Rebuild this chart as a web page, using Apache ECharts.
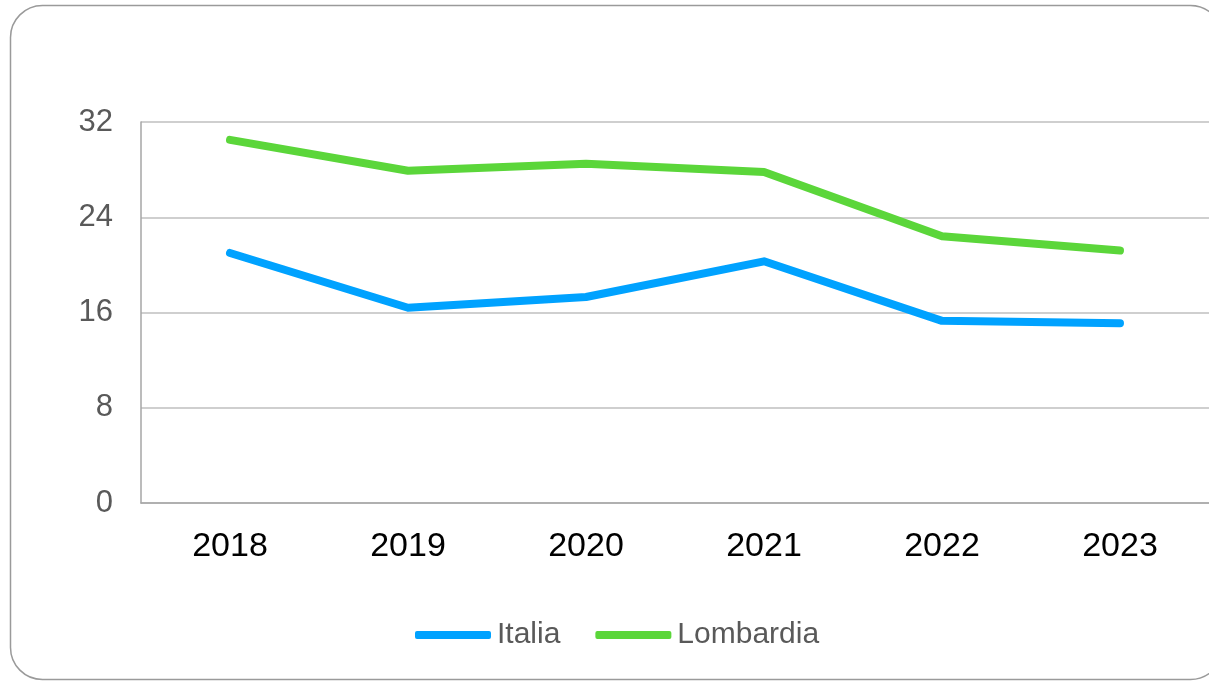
<!DOCTYPE html>
<html><head><meta charset="utf-8">
<script src="https://cdn.jsdelivr.net/npm/echarts@6/dist/echarts.min.js"></script>
<style>html,body{margin:0;padding:0;background:#fff}#c{width:1209px;height:681px}</style>
</head><body><div id="c"></div>
<script>
var categories = ['2018','2019','2020','2021','2022','2023'];
var italia = [21.0, 16.4, 17.3, 20.3, 15.3, 15.1];
var lombardia = [30.5, 27.9, 28.5, 27.8, 22.4, 21.2];
var yTicks = [0, 8, 16, 24, 32];

var chart = echarts.init(document.getElementById('c'), null, {renderer:'canvas'});
chart.setOption({
  animation:false,
  backgroundColor:'#fff',
  graphic:[{type:'rect', shape:{x:10.5,y:5.5,width:1212,height:674,r:32}, style:{fill:'none',stroke:'#9a9a9a',lineWidth:1.5}, z:-1}],
  grid:{left:141, right:-5, top:122, bottom:178, containLabel:false},
  legend:{
    top:620, left:415, padding:0,
    itemWidth:76, itemHeight:8, itemGap:35,
    icon:'roundRect',
    textStyle:{fontFamily:'Liberation Sans, Arial', fontSize:30, color:'#595959', padding:[0,0,0,1]},
    data:['Italia','Lombardia']
  },
  xAxis:{
    type:'category', data:categories, boundaryGap:true,
    axisLine:{show:true, lineStyle:{color:'#a6a6a6', width:1.5}},
    axisTick:{show:false},
    axisLabel:{fontFamily:'Liberation Sans, Arial', fontSize:34, color:'#000', margin:27}
  },
  yAxis:{
    type:'value', min:yTicks[0], max:yTicks[yTicks.length-1], interval:8,
    axisLine:{show:true, lineStyle:{color:'#a6a6a6', width:1.5}},
    axisTick:{show:false},
    splitLine:{lineStyle:{color:'#bfbfbf', width:1.5}},
    axisLabel:{fontFamily:'Liberation Sans, Arial', fontSize:31, color:'#595959', margin:28}
  },
  series:[
    {name:'Italia', type:'line', data:italia, showSymbol:false, symbol:'none',
     lineStyle:{color:'#00a2ff', width:8, cap:'round', join:'round'}, itemStyle:{color:'#00a2ff'}},
    {name:'Lombardia', type:'line', data:lombardia, showSymbol:false, symbol:'none',
     lineStyle:{color:'#5bd63a', width:8, cap:'round', join:'round'}, itemStyle:{color:'#5bd63a'}}
  ]
});
</script></body></html>
